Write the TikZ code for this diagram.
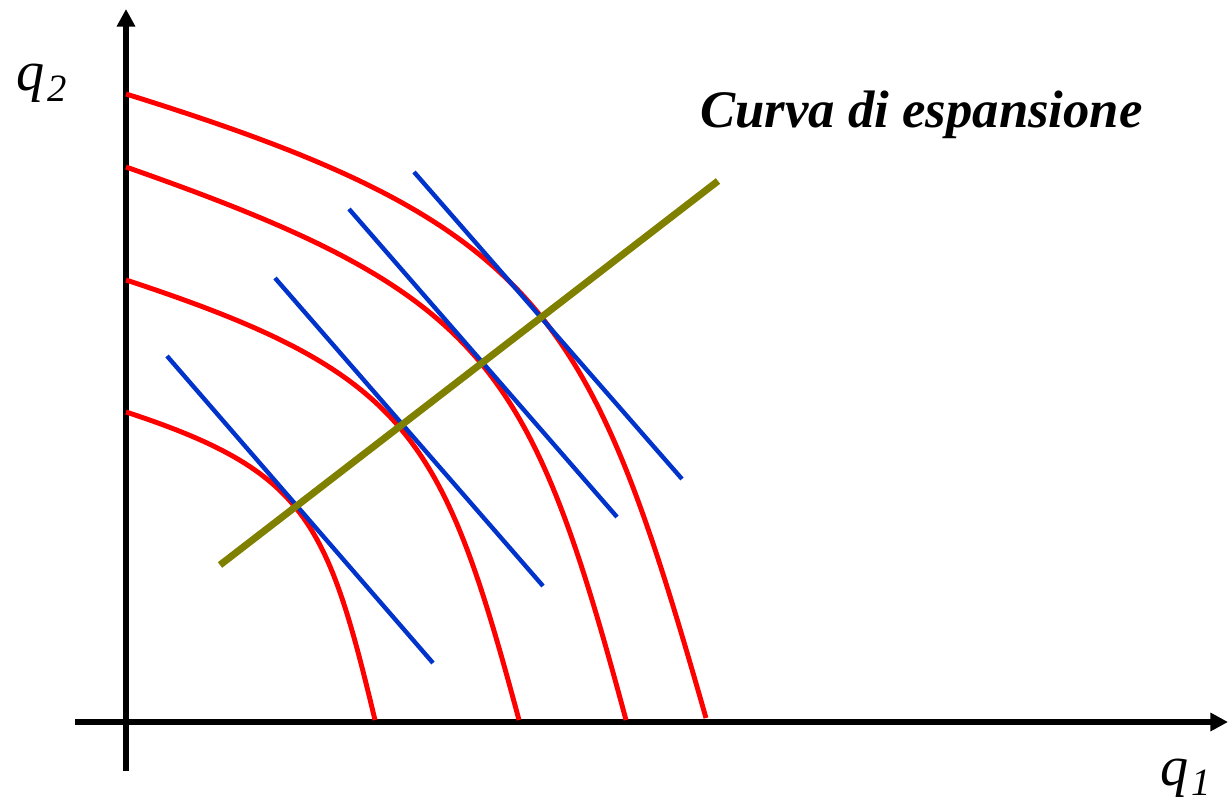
\documentclass[tikz,border=0pt]{standalone}
\usepackage{fontspec}
\setmainfont{Liberation Serif}
\usepackage{tikz}
\usetikzlibrary{arrows.meta}
\definecolor{IsoRed}{RGB}{255, 0, 0}
\definecolor{CostBlue}{RGB}{0, 51, 204}
\definecolor{PathOlive}{RGB}{128, 128, 0}
\tikzset{
    axisline/.style={line width=3.4pt, -{Triangle[length=10pt, width=10pt]}},
    isoquant/.style={IsoRed, line width=2.8pt},
    isocost/.style={CostBlue, line width=2.5pt},
    exppath/.style={PathOlive, line width=4pt},
    axislabel/.style={anchor=base west, inner sep=0pt, font=\fontsize{32}{36}\selectfont\itshape}
}

\begin{document}
\begin{tikzpicture}[x=0.02cm, y=-0.02cm]
            \useasboundingbox (0,0) rectangle (1229,803);
            % axes
            \coordinate (xstart) at (75,722);
            \coordinate (xend) at (1228,722);
            \coordinate (ystart) at (126,771);
            \coordinate (yend) at (126,9);
            \draw[axisline] (xstart) -- (xend);
            \draw[axisline] (ystart) -- (yend);
            \node[axislabel] (qtwo) at (16,91) {q\hspace{2pt}\raisebox{-6pt}{\fontsize{22}{22}\selectfont 2}};
            \node[axislabel] (qone) at (1160,785) {q\hspace{2pt}\raisebox{-6pt}{\fontsize{22}{22}\selectfont 1}};
            % isoquants
            \draw[isoquant] (126,412) .. controls (306,471) and (327,520) .. (375,720);
            \draw[isoquant] (126,280) .. controls (409,373) and (442,434) .. (519,720);
            \draw[isoquant] (126,167) .. controls (486,293) and (529,360) .. (626,720);
            \draw[isoquant] (126,94) .. controls (544,224) and (590,312) .. (706,718);
            % isocost lines
            \foreach \xa/\ya/\xb/\yb in {167/356/433/663, 275/278/543/586, 349/209/617/517, 414/172/682/479}
                \draw[isocost] (\xa,\ya) -- (\xb,\yb);
            % expansion path
            \coordinate (pstart) at (220,565);
            \coordinate (pend) at (718,181);
            \draw[exppath] (pstart) -- (pend);
            \node[anchor=base west, inner sep=0pt, font=\fontsize{30}{36}\selectfont\bfseries\itshape] (curva) at (700,128) {Curva di espansione};
        \end{tikzpicture}
\end{document}
